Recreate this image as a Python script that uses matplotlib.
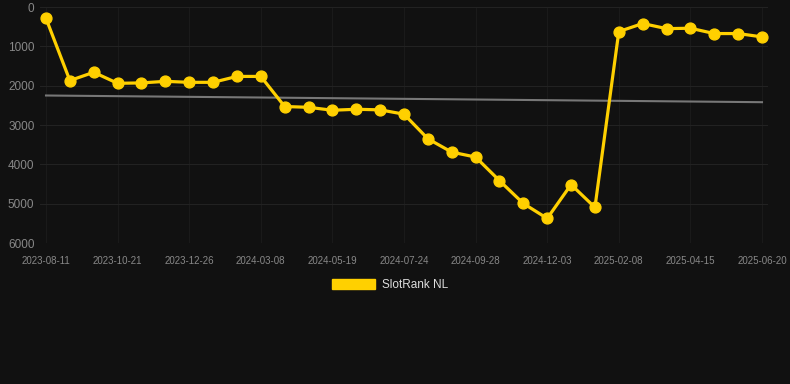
import matplotlib
matplotlib.use("Agg")
import matplotlib.pyplot as plt
from matplotlib.patches import Patch

plt.rcParams['font.family'] = ['Liberation Sans', 'DejaVu Sans']

dates = ["2023-08-11", "2023-09-04", "2023-09-28", "2023-10-21", "2023-11-12", "2023-12-04",
         "2023-12-26", "2024-01-18", "2024-02-13", "2024-03-08", "2024-04-01", "2024-04-25",
         "2024-05-19", "2024-06-12", "2024-07-01", "2024-07-24", "2024-08-17", "2024-09-05",
         "2024-09-28", "2024-10-20", "2024-11-11", "2024-12-03", "2024-12-25", "2025-01-17",
         "2025-02-08", "2025-03-02", "2025-03-24", "2025-04-15", "2025-05-07", "2025-05-29",
         "2025-06-20"]
ranks = [290, 1870, 1660, 1940, 1930, 1890, 1915, 1915, 1765, 1765, 2530, 2550,
         2625, 2600, 2615, 2725, 3350, 3690, 3815, 4415, 4995, 5375, 4515, 5095,
         625, 420, 550, 540, 675, 675, 760]
trend_ends = [2250, 2420]
y_ticks = [0, 1000, 2000, 3000, 4000, 5000, 6000]
series_name = "SlotRank NL"

bg = "#111111"
yellow = "#FFD000"

fig = plt.figure(figsize=(7.9, 3.84), dpi=100, facecolor=bg)
ax = fig.add_axes([40/790, 1-243/384, (768-40)/790, (243-7)/384], facecolor=bg)

x = list(range(len(ranks)))
ax.plot([x[0], x[-1]], trend_ends, color="#777777", lw=1.5, zorder=2)
ax.plot(x, ranks, color=yellow, lw=2.3, marker="o", ms=7.8, zorder=3, clip_on=False)

pad = 6 / ((762 - 46) / (len(ranks) - 1))
ax.set_xlim(-pad, len(ranks) - 1 + pad)
ax.set_ylim(6000, 0)
ax.set_yticks(y_ticks)
ax.set_yticklabels([str(v) for v in y_ticks])
tick_pos = x[::3]
ax.set_xticks(tick_pos)
ax.set_xticklabels([dates[i] for i in tick_pos])

ax.grid(True, axis="y", color="#222222", lw=0.8)
ax.grid(True, axis="x", color="#1a1a1a", lw=0.8)
ax.set_axisbelow(True)
for s in ax.spines.values():
    s.set_visible(False)
ax.tick_params(axis="x", colors="#888888", labelsize=7, length=0, pad=9)
ax.tick_params(axis="y", colors="#888888", labelsize=8.5, length=0, pad=4)

leg = fig.legend(handles=[Patch(facecolor=yellow, edgecolor=yellow, label=series_name)],
                 loc="center", bbox_to_anchor=(390/790, 1-285/384), frameon=False,
                 fontsize=8.5, handlelength=3.6, handleheight=1.0, handletextpad=0.6)
for t in leg.get_texts():
    t.set_color("#dddddd")

fig.savefig("out.png", dpi=100, facecolor=bg)
